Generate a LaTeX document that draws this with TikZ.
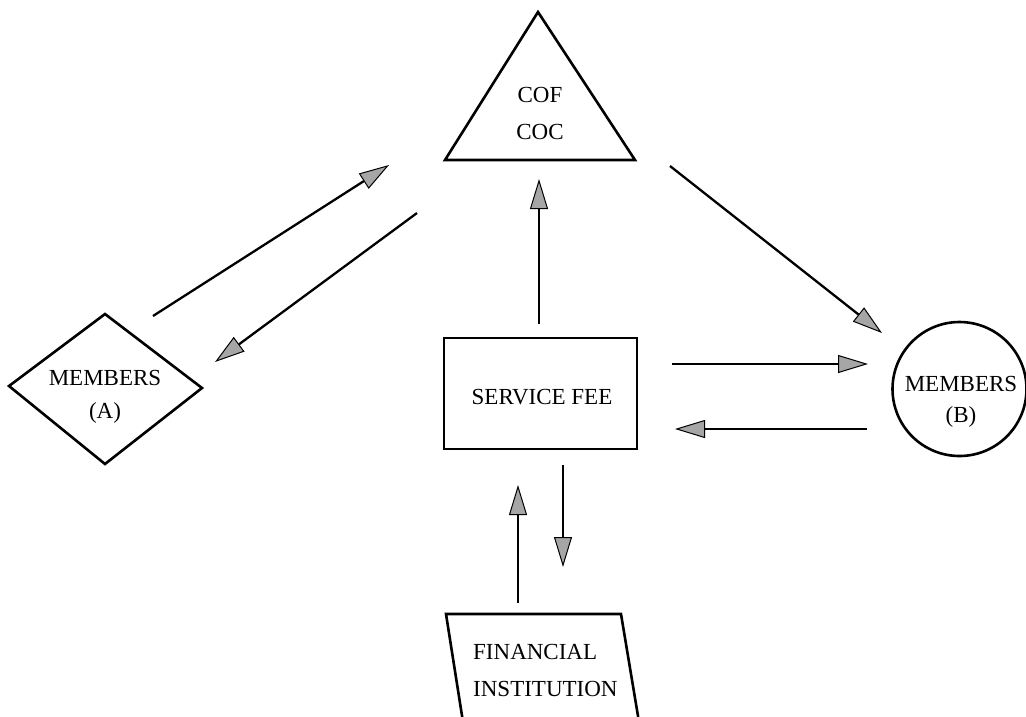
\documentclass[tikz,border=0pt]{standalone}
\usepackage{fontspec}
\setmainfont{Liberation Serif}
\usetikzlibrary{arrows.meta}
\tikzset{
  shapeline/.style={line width=2.6pt, line join=miter},
  arr/.style={line width=2.3pt, -{Triangle[length=30pt,width=18pt,fill=gray!70,line width=1pt]}},
  lbl/.style={font=\fontsize{23}{35}\selectfont, align=center, inner sep=0pt},
}
\begin{document}
\begin{tikzpicture}[x=1pt,y=-1pt]
\useasboundingbox[fill=white] (0,0) rectangle (1026,716);
% triangle COF / COC
\draw[shapeline] (538,12) -- (635,160) -- (445,160) -- cycle;
\node[lbl, font=\fontsize{23}{37}\selectfont] (cof) at (540,113) {COF\\COC};
% diamond members A
\draw[shapeline] (105,314) -- (202,388) -- (105,464) -- (9,386) -- cycle;
\node[lbl, font=\fontsize{23}{33}\selectfont] (mema) at (105,397) {MEMBERS\\(A)};
% service fee
\node[draw, shapeline, minimum width=193pt, minimum height=111pt, inner sep=0pt] (sf) at (540.5,393.5) {};
\node[lbl] (sft) at (542,397) {SERVICE FEE};
% circle members B
\node[draw, shapeline, circle, minimum size=134pt, inner sep=0pt] (cb) at (959.5,389) {};
\node[lbl, font=\fontsize{23}{31}\selectfont] (memb) at (961,402) {MEMBERS\\(B)};
% financial institution
\draw[shapeline] (463,722) -- (446,614) -- (621,614) -- (639,722);
\node[lbl, align=left, anchor=west, font=\fontsize{23}{37}\selectfont] (fi) at (473,670) {FINANCIAL\\INSTITUTION};
% arrow end points
\coordinate (a1s) at (153,316); \coordinate (a1e) at (389,165);
\coordinate (a2s) at (417,213); \coordinate (a2e) at (215,362);
\coordinate (a3s) at (539,324); \coordinate (a3e) at (539,179);
\coordinate (a4s) at (670,166); \coordinate (a4e) at (882,333);
\coordinate (a5s) at (672,364); \coordinate (a5e) at (868,364);
\coordinate (a6s) at (867,429); \coordinate (a6e) at (675,429);
\coordinate (a7s) at (518,603); \coordinate (a7e) at (518,485);
\coordinate (a8s) at (563,465); \coordinate (a8e) at (563,567);
\draw[arr] (a1s) -- (a1e);
\draw[arr] (a2s) -- (a2e);
\draw[arr] (a3s) -- (a3e);
\draw[arr] (a4s) -- (a4e);
\draw[arr] (a5s) -- (a5e);
\draw[arr] (a6s) -- (a6e);
\draw[arr] (a7s) -- (a7e);
\draw[arr] (a8s) -- (a8e);
\end{tikzpicture}
\end{document}
